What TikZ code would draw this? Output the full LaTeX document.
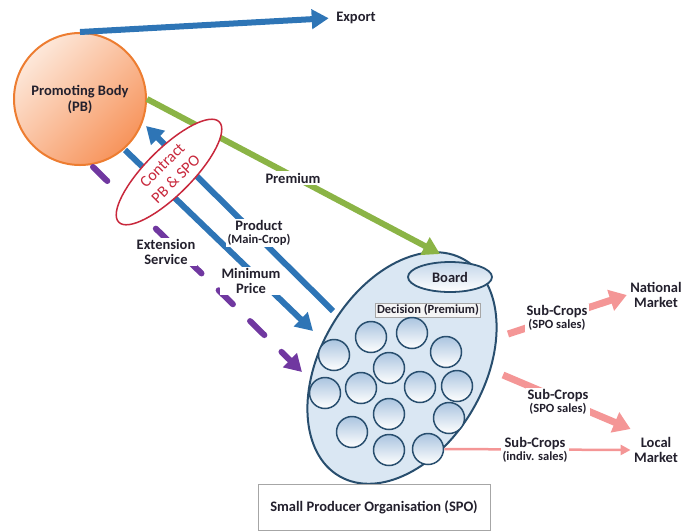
\documentclass[tikz,border=0pt]{standalone}
\usepackage{fontspec}
\setmainfont{Carlito}
\usetikzlibrary{arrows.meta,shapes.geometric,calc}
\definecolor{blueA}{RGB}{46,117,182}
\definecolor{greenA}{RGB}{139,180,70}
\definecolor{purpA}{RGB}{112,56,160}
\definecolor{pinkA}{RGB}{244,150,150}
\definecolor{orangeB}{RGB}{237,125,49}
\definecolor{orangeL}{RGB}{253,232,218}
\definecolor{orangeD}{RGB}{247,148,92}
\definecolor{spoFill}{RGB}{218,231,243}
\definecolor{spoLine}{RGB}{40,78,110}
\definecolor{circTop}{RGB}{170,196,224}
\definecolor{redC}{RGB}{200,40,60}
\definecolor{txt}{RGB}{35,32,45}
\begin{document}
\begin{tikzpicture}[x=1pt,y=-1pt,
  font=\fontsize{14.5}{16}\selectfont\bfseries,
  lbl/.style={text=txt, align=center, inner sep=1.5pt, fill=white},
  smallt/.style={font=\fontsize{12.5}{13}\selectfont\bfseries},
  bluearrow/.style={draw=blueA, line width=6pt, -{Triangle[length=17pt,width=19pt]}},
  greenarrow/.style={draw=greenA, line width=6pt, -{Triangle[length=17pt,width=19pt]}},
  purparrow/.style={draw=purpA, line width=6pt, dash pattern=on 20pt off 24pt, line cap=round, -{Triangle[length=17pt,width=19pt]}},
  pinkarrow/.style={draw=pinkA, line width=7pt, -{Triangle[length=17pt,width=21pt]}},
  pinkthin/.style={draw=pinkA, line width=2.5pt, -{Triangle[length=10pt,width=10pt]}},
  smallc/.style={circle, draw=spoLine, line width=1.5pt, minimum size=31pt, inner sep=0pt, top color=circTop, bottom color=white}
]
\useasboundingbox (0,0) rectangle (684,531);

% SPO big ellipse
\node[ellipse, draw=spoLine, line width=2pt, fill=spoFill, minimum width=250pt, minimum height=164pt, rotate=60] (SPO) at (402,368) {};

% Promoting body
\node[circle, draw=orangeB, line width=2pt, minimum size=132pt, top color=orangeL, bottom color=orangeD, shading angle=45, text=txt, align=center] (PB) at (80,99) {Promoting Body\\(PB)};

% Export
\node[text=txt] (exp) at (356,18) {Export};
\draw[bluearrow, shorten >=4pt] (PB.north) -- (exp.west);

% coordinates
\coordinate (gtip) at (440,254);
\coordinate (prodS) at (333,311);
\coordinate (prodT) at (146,126);
\coordinate (minS) at (125,150);
\coordinate (minT) at (313,331);
\coordinate (extS) at (93,167);
\coordinate (extT) at (302,372);
\coordinate (nS) at (508,334);
\coordinate (lS) at (503,375);

% Premium
\draw[greenarrow] (PB.east) -- (gtip);
\node[lbl] (prem) at (293,178) {Premium};

% Blue/purple arrows
\draw[bluearrow] (prodS) -- (prodT);
\draw[bluearrow] (minS) -- (minT);
\draw[purparrow] (extS) -- (extT);
\node[lbl] (prod) at (259,233) {Product\\[-3pt]{\fontsize{12.5}{13}\selectfont(Main-Crop)}};
\node[lbl] (minp) at (251,281) {Minimum\\[-1pt]Price};
\node[lbl] (ext) at (166,252) {Extension\\[-1pt]Service};

% Contract
\node[ellipse, draw=redC, line width=1.5pt, fill=white, minimum width=142pt, minimum height=46pt, rotate=45, text=redC, align=center, inner sep=0pt, font=\fontsize{16}{19}\selectfont] (con) at (169,172) {Contract\\PB \& SPO};

% Board and decision
\node[ellipse, draw=spoLine, line width=1.8pt, minimum width=84pt, minimum height=30pt, top color=circTop!70, bottom color=white, text=txt] (board) at (450,277) {Board};
\node[draw=gray!70, fill=white!92!gray, inner sep=1.5pt, smallt, text=txt] (dec) at (428,310) {Decision (Premium)};

% small circles
\foreach \p [count=\i] in {(334,355),(371,337),(412,333),(446,352),(389,368),(325,393),(361,388),(420,387),(457,386),(389,414),(449,418),(352,432),(389,450),(428,449)}
  \node[smallc] (c\i) at \p {};

% SPO box
\node[draw=gray!70, line width=0.8pt, fill=white, minimum width=232pt, minimum height=46pt, text=txt] (box) at (374,507) {Small Producer Organisation (SPO)};

% Markets
\node[text=txt, align=center] (nat) at (656,295) {National\\[-1pt]Market};
\node[text=txt, align=center] (loc) at (656,450) {Local\\[-1pt]Market};

% pink arrows
\draw[pinkarrow] (nS) -- (nat.west);
\draw[pinkarrow] (lS) -- ($(loc.west)+(0,-21)$);
\draw[pinkthin] (c14.east) -- (loc.west);
\node[lbl] (sc1) at (557,318) {Sub-Crops\\[-3pt]{\fontsize{12.5}{13}\selectfont(SPO sales)}};
\node[lbl] (sc2) at (558,402) {Sub-Crops\\[-3pt]{\fontsize{12.5}{13}\selectfont(SPO sales)}};
\node[lbl] (sc3) at (535,450) {Sub-Crops\\[-3pt]{\fontsize{12.5}{13}\selectfont(indiv. sales)}};
\end{tikzpicture}
\end{document}
